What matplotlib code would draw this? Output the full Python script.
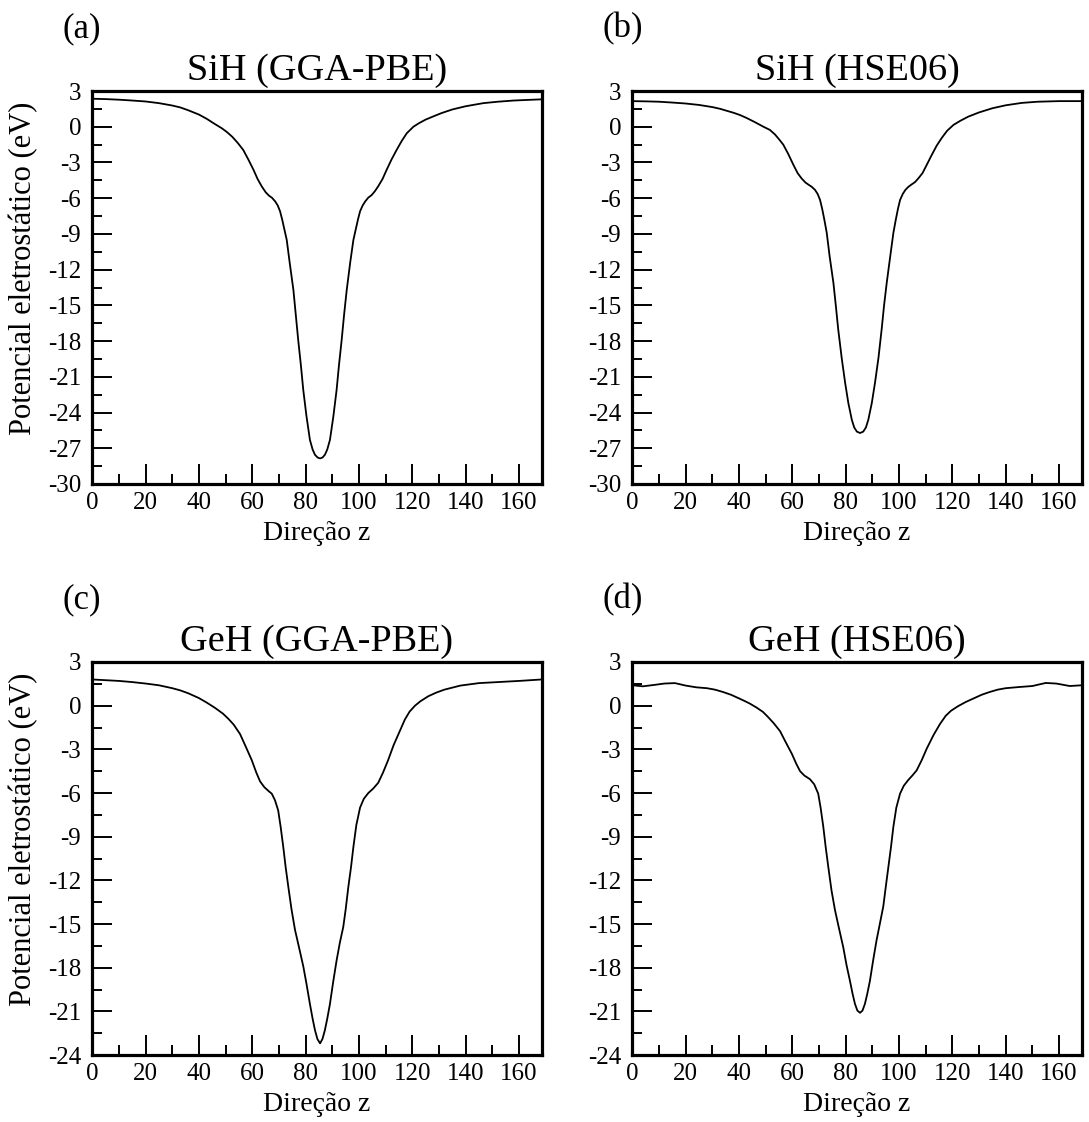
import numpy as np
import matplotlib
matplotlib.use('Agg')
import matplotlib.pyplot as plt
from matplotlib.ticker import MultipleLocator

plt.rcParams['font.family'] = ['Liberation Serif', 'DejaVu Serif']
plt.rcParams['axes.unicode_minus'] = False

# Potencial eletrostático ao longo de z (eV)
sih_pbe_z = [0, 5, 10, 15, 20, 25, 30, 33, 36, 40, 43, 46, 48.5, 50.5, 52.5, 54.5,
             56.6, 58.5, 60.4, 62, 63.5, 65, 66.3, 67.3, 68.5, 69.5, 70.4, 71.2, 72,
             72.9, 74, 75.4, 76.3, 77.2, 78.2, 79.1, 80.3, 81.6, 82.6, 83.5, 84.5, 85.4,
             86.3, 87.2, 88.1, 89.1, 90.4, 91.6, 92.5, 93.5, 94.4, 95.4, 96.7, 97.9,
             98.8, 99.6, 100.4, 101.4, 102.4, 103.5, 104.7, 106, 107.2, 108.8, 110.4,
             112.2, 114.1, 116, 117.9, 120.4, 122.5, 125, 128, 131, 135, 140, 146.6,
             152, 158, 163, 168.5]
sih_pbe_v = [2.35, 2.32, 2.27, 2.2, 2.12, 1.98, 1.78, 1.62, 1.38, 1.02, 0.65, 0.22,
             -0.12, -0.45, -0.85, -1.35, -1.95, -2.75, -3.6, -4.4, -5.0, -5.5, -5.8,
             -5.95, -6.25, -6.6, -7.1, -7.8, -8.6, -9.5, -11.4, -13.7, -15.8, -17.9,
             -20.0, -22.1, -24.3, -26.3, -27.1, -27.55, -27.78, -27.85, -27.78, -27.55,
             -27.1, -26.3, -24.3, -22.1, -20.0, -17.9, -15.8, -13.7, -11.4, -9.5, -8.6,
             -7.8, -7.1, -6.6, -6.25, -5.95, -5.75, -5.4, -5.0, -4.4, -3.6, -2.75,
             -1.95, -1.2, -0.55, 0.0, 0.3, 0.6, 0.88, 1.15, 1.45, 1.72, 1.98, 2.1, 2.2,
             2.25, 2.3]

sih_hse_z = [0, 5, 10, 15, 20, 25, 30, 33, 36, 38, 40.4, 43, 46, 49, 51.6, 53.5, 55,
             56.6, 58.5, 60.4, 62, 63.5, 65, 66.3, 67.3, 68.5, 69.5, 70.4, 71.2, 72,
             72.9, 74, 75.4, 76.3, 77.2, 78.5, 79.8, 81, 82.3, 83.2, 84.2, 85.4, 86.6,
             87.6, 88.5, 89.8, 91.0, 92.3, 93.5, 94.4, 95.4, 96.7, 97.9, 98.8, 99.6,
             100.4, 101.4, 102.4, 103.5, 104.7, 106, 107.2, 108.8, 110.4, 112.2, 114.1,
             116, 118, 120.4, 123, 126, 130, 135, 140, 146, 152, 160, 168.5]
sih_hse_v = [2.15, 2.13, 2.1, 2.03, 1.95, 1.83, 1.65, 1.5, 1.3, 1.17, 0.98, 0.72,
             0.38, 0.02, -0.27, -0.65, -1.05, -1.5, -2.3, -3.2, -3.9, -4.35, -4.7, -4.9,
             -5.05, -5.3, -5.65, -6.15, -6.9, -7.8, -8.9, -10.9, -13.1, -15.0, -17.0,
             -19.4, -21.5, -23.2, -24.6, -25.25, -25.6, -25.72, -25.6, -25.25, -24.6,
             -23.2, -21.5, -19.4, -17.0, -15.0, -13.1, -10.9, -8.9, -7.8, -6.9, -6.15,
             -5.65, -5.3, -5.05, -4.85, -4.65, -4.35, -3.9, -3.2, -2.4, -1.6, -0.95,
             -0.35, 0.15, 0.5, 0.85, 1.2, 1.55, 1.8, 2.0, 2.1, 2.15, 2.15]

geh_pbe_z = [0, 5, 10, 15, 20, 25, 30, 33, 36, 40, 43, 46, 49, 51, 53, 55.4, 57.5,
             59.8, 61.5, 62.9, 64.5, 66, 67.3, 68.5, 69.7, 70.6, 71.6, 72.5, 73.5, 74.7,
             76.0, 77.5, 79.1, 80.3, 81.6, 82.6, 83.5, 84.4, 85.4, 86.3, 87.2, 88.1,
             89.1, 90.3, 91.6, 92.8, 94.1, 95.0, 96.0, 97.0, 97.9, 99, 100.4, 101.8,
             103.5, 105.3, 107.2, 109, 110.9, 113, 115.4, 117.2, 119, 121, 123, 126,
             129, 132, 138, 145, 152, 160, 168.5]
geh_pbe_v = [1.8, 1.75, 1.7, 1.62, 1.52, 1.4, 1.2, 1.05, 0.85, 0.52, 0.2, -0.15,
             -0.55, -0.9, -1.3, -1.95, -2.8, -3.75, -4.6, -5.2, -5.6, -5.85, -6.05,
             -6.5, -7.2, -8.3, -9.7, -11.1, -12.45, -14.0, -15.4, -16.6, -17.9, -19.1,
             -20.5, -21.5, -22.3, -22.9, -23.2, -22.9, -22.3, -21.5, -20.5, -19.0,
             -17.5, -16.3, -15.2, -14.0, -12.45, -11.1, -9.7, -8.2, -7.0, -6.4, -6.0,
             -5.7, -5.3, -4.6, -3.75, -2.7, -1.7, -0.95, -0.4, 0.0, 0.3, 0.65, 0.9,
             1.1, 1.38, 1.55, 1.62, 1.7, 1.8]

geh_hse_z = [0, 4, 8, 12, 16, 20, 24, 28, 31, 34, 37, 40, 42, 44, 46.5, 49, 51, 53,
             55.4, 57.5, 59.8, 61.5, 62.9, 64.5, 66.6, 68.2, 69.7, 70.6, 71.6, 72.5,
             73.5, 74.7, 76.0, 77.5, 79.1, 80.3, 81.6, 82.6, 83.5, 84.4, 85.4, 86.3,
             87.2, 88.1, 89.1, 90.3, 91.6, 92.8, 94.1, 95.0, 96.0, 97.0, 97.9, 99,
             100.4, 101.8, 103.5, 105, 106.6, 108.5, 110.4, 113, 115.4, 117.5, 119.5,
             122, 125, 128, 131, 134, 137, 140, 145, 150, 155, 159, 164, 168.5]
geh_hse_v = [1.4, 1.33, 1.42, 1.52, 1.55, 1.38, 1.26, 1.2, 1.1, 0.94, 0.75, 0.5,
             0.33, 0.15, -0.12, -0.43, -0.8, -1.2, -1.75, -2.5, -3.3, -4.0, -4.5,
             -4.8, -5.05, -5.4, -6.04, -7.0, -8.3, -9.7, -11.1, -12.7, -14.05, -15.3,
             -16.6, -17.8, -18.9, -19.8, -20.5, -20.95, -21.1, -20.95, -20.5, -19.8,
             -18.9, -17.5, -16.1, -15.0, -13.8, -12.5, -11.1, -9.7, -8.3, -7.0, -6.04,
             -5.5, -5.1, -4.8, -4.45, -3.75, -2.95, -2.0, -1.25, -0.7, -0.35, -0.05,
             0.25, 0.5, 0.75, 0.94, 1.1, 1.2, 1.28, 1.35, 1.56, 1.52, 1.35, 1.4]

panels = [
    ('(a)', 'SiH (GGA-PBE)', sih_pbe_z, sih_pbe_v, -30),
    ('(b)', 'SiH (HSE06)', sih_hse_z, sih_hse_v, -30),
    ('(c)', 'GeH (GGA-PBE)', geh_pbe_z, geh_pbe_v, -24),
    ('(d)', 'GeH (HSE06)', geh_hse_z, geh_hse_v, -24),
]

W, H = 1089, 1122
fig = plt.figure(figsize=(W / 100, H / 100), dpi=100)

lefts = [92.3, 632.3]
tops = [91, 662]
ax_w, ax_h = 449.4, 393

for i, (tag, title, z, v, ymin) in enumerate(panels):
    row, col = divmod(i, 2)
    left = lefts[col]
    top = tops[row]
    ax = fig.add_axes([left / W, 1 - (top + ax_h) / H, ax_w / W, ax_h / H])
    ax.plot(z, v, color='black', lw=1.3, solid_joinstyle='round')
    ax.set_xlim(0, 168.5)
    ax.set_ylim(ymin, 3)

    ax.xaxis.set_major_locator(MultipleLocator(20))
    ax.xaxis.set_minor_locator(MultipleLocator(10))
    ax.yaxis.set_major_locator(MultipleLocator(3))
    ax.yaxis.set_minor_locator(MultipleLocator(1.5))
    ax.tick_params(which='both', direction='in', top=False, right=False,
                   width=1.4, labelsize=18)
    ax.tick_params(which='major', length=14.4)
    ax.tick_params(which='minor', length=7.2)
    ax.tick_params(axis='x', pad=6)
    ax.tick_params(axis='y', pad=8)
    for sp in ax.spines.values():
        sp.set_linewidth(2.3)

    ax.set_title(title, fontsize=27.5, pad=8)
    ax.set_xlabel('Direção z', fontsize=20)
    ax.xaxis.set_label_coords(0.5, -0.095)
    if col == 0:
        ax.set_ylabel('Potencial eletrostático (eV)', fontsize=22)
        ax.yaxis.set_label_coords(-0.12, 0.55)

    fig.text((62 + 540 * col) / W, 1 - (37 + 571 * row) / H, tag,
             fontsize=25, va='baseline', ha='left')

fig.savefig('out.png', dpi=100)
